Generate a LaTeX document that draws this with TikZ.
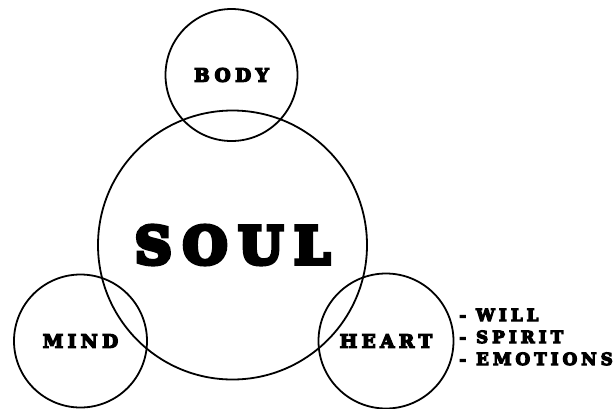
\documentclass[tikz,border=0pt]{standalone}
\usepackage{fontspec}
\newfontfamily\fatface{DejaVu Serif Bold}[LetterSpace=24, FakeBold=7]
\newfontfamily\fatsoul{DejaVu Serif Bold}[LetterSpace=22, FakeBold=9]
\usetikzlibrary{positioning}

\tikzset{
  ring/.style={circle, draw, line width=1.8pt, inner sep=0pt},
  word/.style={font=\fatface\fontsize{18.5}{18.5}\selectfont},
}

\begin{document}
\begin{tikzpicture}[x=1pt, y=-1pt]
  \useasboundingbox (0,0) rectangle (615,408);
  % the big circle in the middle
  \node[ring, minimum size=269, font=\fatsoul\fontsize{51}{51}\selectfont]
    (soul) at (232.5,245) {SOUL};
  % the three smaller circles round it
  \node[ring, minimum size=132, word] (body) at (231.5,75) {BODY};
  \node[ring, minimum size=133, word] (mind) at (80.5,341) {MIND};
  \node[ring, minimum size=135, word] (heart) at (386,341) {HEART};
  % what the heart holds
  \node[word, font=\fatface\fontsize{16.8}{22}\selectfont, align=left,
    anchor=west, inner sep=0pt] (parts) at (459,337)
    {- WILL\\- SPIRIT\\- EMOTIONS};
\end{tikzpicture}
\end{document}
